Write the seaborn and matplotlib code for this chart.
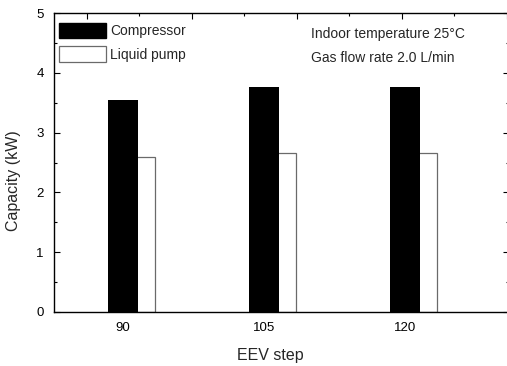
import numpy as np
import pandas as pd
import matplotlib
matplotlib.use("Agg")
import matplotlib.pyplot as plt
import seaborn as sns
from matplotlib.patches import Patch
from matplotlib.ticker import MultipleLocator, NullLocator

# ---- data ----
steps = ["90", "105", "120"]
compressor = [3.55, 3.76, 3.77]
pump = [2.60, 2.66, 2.66]
series_names = ["Compressor", "Liquid pump"]
note_lines = ["Indoor temperature 25\u00b0C", "Gas flow rate 2.0 L/min"]
x_label = "EEV step"
y_label = "Capacity (kW)"

# ---- style ----
sns.set_style("ticks")
plt.rcParams["font.family"] = ["Liberation Sans", "DejaVu Sans"]

W, H = 507, 366
fig = plt.figure(figsize=(W / 100, H / 100), dpi=100)
L, R, T, B = 54, 509, 13, 312
ax = fig.add_axes([L / W, 1 - B / H, (R - L) / W, (B - T) / H])

idx = np.arange(len(steps))
BAR_W = 0.213
PUMP_SHIFT = 0.12
df_c = pd.DataFrame({"pos": idx, "cap": compressor})
df_p = pd.DataFrame({"pos": idx + PUMP_SHIFT, "cap": pump})

edge_grey = "#6a6a6a"
sns.barplot(data=df_p, x="pos", y="cap", native_scale=True, width=BAR_W,
            color="white", edgecolor=edge_grey, linewidth=0.9, saturation=1,
            errorbar=None, ax=ax)
sns.barplot(data=df_c, x="pos", y="cap", native_scale=True, width=BAR_W,
            color="black", edgecolor="black", linewidth=0, saturation=1,
            errorbar=None, ax=ax)

ax.set_xlim(-0.489, 2.738)
ax.set_ylim(0, 5)
ax.set_xticks(idx, steps)
ax.xaxis.set_minor_locator(NullLocator())
ax.yaxis.set_major_locator(MultipleLocator(1))
ax.yaxis.set_minor_locator(MultipleLocator(0.5))

ax.tick_params(axis="y", which="both", direction="in", left=True, right=True,
               labelsize=9.5, pad=7.5, color="black", labelcolor="black")
ax.tick_params(axis="y", which="major", length=4.3, width=0.8)
ax.tick_params(axis="y", which="minor", length=2.2, width=0.8)
ax.tick_params(axis="x", which="both", length=0, labelsize=9.5, pad=7,
               top=False, labelcolor="black")

for s in ax.spines.values():
    s.set_visible(True)
    s.set_color("black")
    s.set_linewidth(1.0)

# top axis minor/major ticks (decorative, as in the scanned figure)
ax2 = ax.twiny()
ax2.set_xlim(-0.629, 8.04)
ax2.xaxis.set_major_locator(MultipleLocator(2))
ax2.xaxis.set_minor_locator(MultipleLocator(1))
ax2.tick_params(axis="x", which="both", direction="in", top=True, bottom=False,
                labeltop=False, labelbottom=False, color="black")
ax2.tick_params(axis="x", which="major", length=4.3, width=0.8)
ax2.tick_params(axis="x", which="minor", length=2.2, width=0.8)
for s in ax2.spines.values():
    s.set_visible(False)

ax.set_xlabel(x_label, fontsize=11.5)
ax.set_ylabel(y_label, fontsize=11.5)
ax.xaxis.set_label_coords(0.475, -0.12)
ax.yaxis.set_label_coords(-0.073, 0.44)

handles = [Patch(facecolor="black", edgecolor="black", label=series_names[0]),
           Patch(facecolor="white", edgecolor=edge_grey, linewidth=0.9,
                 label=series_names[1])]
ax.legend(handles=handles, loc="upper left", bbox_to_anchor=(-0.005, 0.99),
          frameon=False, fontsize=10, handlelength=3.4, handleheight=1.3,
          handletextpad=0.3, labelspacing=0.6, borderaxespad=0,
          borderpad=0.5)

ax.text(0.565, 0.930, note_lines[0], transform=ax.transAxes, va="center",
        ha="left", fontsize=10)
ax.text(0.565, 0.850, note_lines[1], transform=ax.transAxes, va="center",
        ha="left", fontsize=10)

fig.savefig("out.png", dpi=100)
